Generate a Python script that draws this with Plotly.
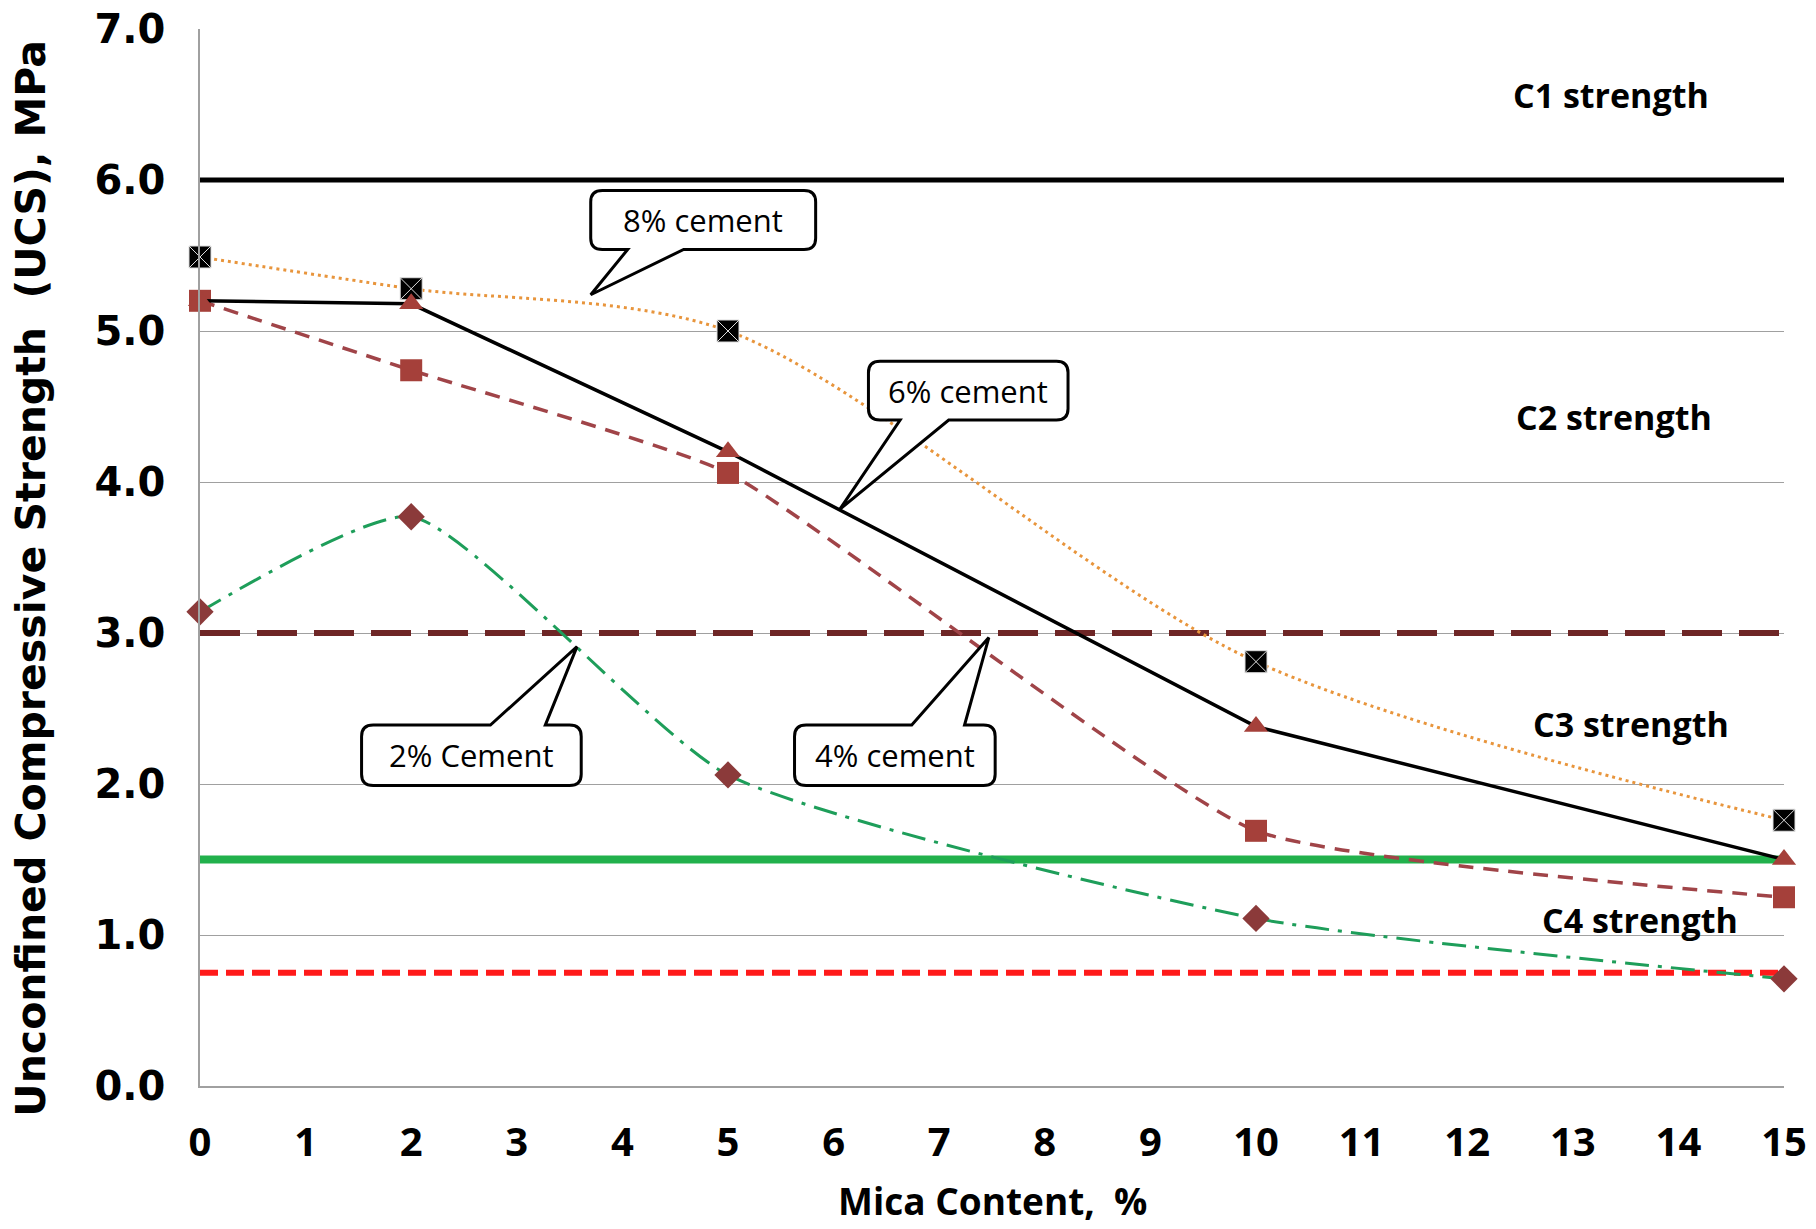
import plotly.graph_objects as go

# ---------------- data ----------------
mica = [0, 2, 5, 10, 15]
ucs_8 = [5.49, 5.28, 5.00, 2.81, 1.76]
ucs_6 = [5.20, 5.18, 4.20, 2.38, 1.50]
ucs_4 = [5.20, 4.74, 4.06, 1.69, 1.25]
ucs_2 = [3.14, 3.77, 2.06, 1.11, 0.71]

class_limits = [6.0, 3.0, 1.5, 0.75]
x_span = [0, 15]

class_names = ["C1 strength", "C2 strength", "C3 strength", "C4 strength"]
callout_texts = ["8% cement", "6% cement", "2% Cement", "4% cement"]

x_ticks = list(range(0, 16))
y_ticks = [0, 1, 2, 3, 4, 5, 6, 7]
y_tick_text = ["0.0", "1.0", "2.0", "3.0", "4.0", "5.0", "6.0", "7.0"]

# ---------------- figure ----------------
fig = go.Figure()

# class limit lines
limit_styles = [
    dict(color="#000000", width=5, dash="solid"),
    dict(color="#6E2626", width=6, dash="40px,17px"),
    dict(color="#22B14C", width=8, dash="solid"),
    dict(color="#FF1A1A", width=6, dash="18px,8px"),
]
for val, st in zip(class_limits, limit_styles):
    fig.add_trace(go.Scatter(x=x_span, y=[val, val], mode="lines", line=st,
                             showlegend=False, hoverinfo="skip"))

# series
fig.add_trace(go.Scatter(
    x=mica, y=ucs_2, mode="lines+markers", cliponaxis=False, showlegend=False,
    line=dict(color="#1E9E5A", width=3, dash="24px,9px,4px,9px", shape="spline", smoothing=0.55),
    marker=dict(symbol="diamond", size=21, color="#8B3A3A")))
fig.add_trace(go.Scatter(
    x=mica, y=ucs_4, mode="lines+markers", cliponaxis=False, showlegend=False,
    line=dict(color="#A04448", width=3.5, dash="15px,10px", shape="spline", smoothing=0.45),
    marker=dict(symbol="square", size=22, color="#A5403A")))
fig.add_trace(go.Scatter(
    x=mica, y=ucs_8, mode="lines+markers", cliponaxis=False, showlegend=False,
    line=dict(color="#E8953C", width=3, dash="3px,4px", shape="spline", smoothing=0.85),
    marker=dict(symbol="square-x", size=22, color="#000000",
                line=dict(color="#DDDDDD", width=1))))
fig.add_trace(go.Scatter(
    x=mica, y=ucs_6, mode="lines+markers", cliponaxis=False, showlegend=False,
    line=dict(color="#000000", width=3.5),
    marker=dict(symbol="triangle-up", size=21, color="#A5403A")))

# class labels
class_pos = [(13.36, 6.56), (13.39, 4.43), (13.55, 2.40), (13.64, 1.10)]
for name, (cx, cy) in zip(class_names, class_pos):
    fig.add_annotation(x=cx, y=cy, text=name, showarrow=False,
                       font=dict(family="Open Sans", size=34, color="#000000", weight="bold"))

# callouts: box (x0, x1, y0, y1), wedge base (a, b), tip, side
callout_geom = [
    ((3.70, 5.83, 5.54, 5.93), (4.05, 4.58), (3.70, 5.24), "bottom"),
    ((6.33, 8.22, 4.41, 4.80), (6.63, 7.09), (6.06, 3.82), "bottom"),
    ((1.53, 3.61, 1.99, 2.39), (2.75, 3.27), (3.57, 2.91), "top"),
    ((5.63, 7.53, 1.99, 2.39), (6.74, 7.24), (7.47, 2.97), "top"),
]
rx, ry = 0.11, 0.075


def callout_path(box, base, tip, side):
    x0, x1, y0, y1 = box
    a, b = base
    tx, ty = tip
    p = f"M {x0+rx},{y1} "
    if side == "top":
        p += f"L {a},{y1} L {tx},{ty} L {b},{y1} "
    p += f"L {x1-rx},{y1} Q {x1},{y1} {x1},{y1-ry} L {x1},{y0+ry} Q {x1},{y0} {x1-rx},{y0} "
    if side == "bottom":
        p += f"L {b},{y0} L {tx},{ty} L {a},{y0} "
    p += f"L {x0+rx},{y0} Q {x0},{y0} {x0},{y0+ry} L {x0},{y1-ry} Q {x0},{y1} {x0+rx},{y1} Z"
    return p


for txt, (box, base, tip, side) in zip(callout_texts, callout_geom):
    fig.add_shape(type="path", path=callout_path(box, base, tip, side),
                  xref="x", yref="y", fillcolor="white",
                  line=dict(color="black", width=3), layer="above")
    fig.add_annotation(x=(box[0] + box[1]) / 2, y=(box[2] + box[3]) / 2, text=txt,
                       showarrow=False,
                       font=dict(family="Open Sans", size=31, color="#000000"))

# axis titles
fig.add_annotation(xref="paper", yref="paper", x=0.5, y=0, yshift=-114,
                   text="Mica Content,  %", showarrow=False, yanchor="middle",
                   font=dict(family="Open Sans", size=37, color="#000000", weight="bold"))
fig.add_annotation(xref="paper", yref="paper", x=0, y=0.48, xshift=-169,
                   text="Unconfined Compressive Strength  (UCS), MPa", textangle=-90,
                   showarrow=False, xanchor="center",
                   font=dict(family="DejaVu Sans", size=41, color="#000000", weight="bold"))

fig.update_layout(
    width=1816, height=1229,
    margin=dict(l=200, r=32, t=29, b=143, autoexpand=False),
    paper_bgcolor="white", plot_bgcolor="white",
    xaxis=dict(range=[0, 15], tickvals=x_ticks, showgrid=False, zeroline=False,
               showline=True, linecolor="#A0A0A0", linewidth=1.5, ticks="",
               ticklabelstandoff=20, automargin=False, ticklabeloverflow="allow",
               tickfont=dict(family="Open Sans", size=40, color="#000000", weight="bold")),
    yaxis=dict(range=[0, 7], tickvals=y_ticks, ticktext=y_tick_text, showgrid=True,
               gridcolor="#A0A0A0", gridwidth=1.2, zeroline=False,
               showline=True, linecolor="#A0A0A0", linewidth=1.5, ticks="",
               ticklabelstandoff=25, automargin=False, ticklabeloverflow="allow",
               tickfont=dict(family="DejaVu Sans", size=40, color="#000000", weight="bold")),
)

fig.write_html("out.html", config={"displayModeBar": False},
               post_script="document.body.style.margin='0';document.body.style.overflow='hidden';")
